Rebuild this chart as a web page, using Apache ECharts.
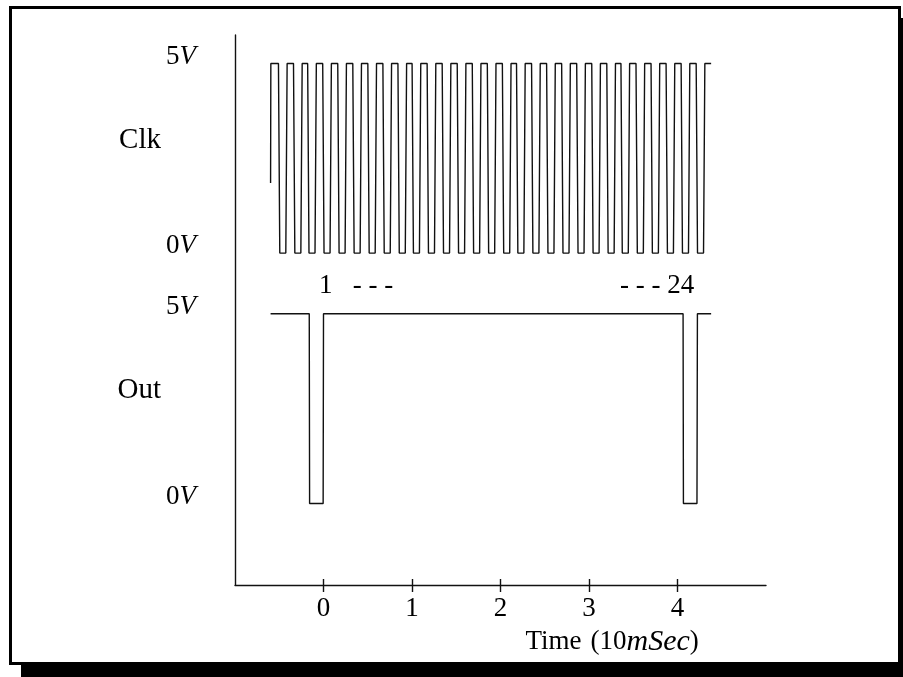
<!DOCTYPE html>
<html>
<head>
<meta charset="utf-8">
<title>Clk / Out</title>
<script src="https://cdn.jsdelivr.net/npm/echarts@6/dist/echarts.min.js"></script>
<style>
  html, body { margin: 0; padding: 0; background: #fff; }
  #chart { width: 903px; height: 677px; }
</style>
</head>
<body>
<div id="chart"></div>
<script>
// Time axis ticks (units of 10 mSec)
const xTicks = [0, 1, 2, 3, 4];

// Clock: centre of every low (0 V) plateau, in time units
const clkLowCentres = [
  -0.46, -0.29, -0.13, 0.04, 0.21, 0.38, 0.55, 0.72, 0.89, 1.05,
  1.22, 1.39, 1.56, 1.73, 1.90, 2.07, 2.23, 2.40, 2.57, 2.74,
  2.91, 3.08, 3.25, 3.41, 3.58, 3.75, 3.92, 4.09, 4.26
];
const clkStart = [[-0.598, 1.85], [-0.595, 5]];
const clkEnd = 4.38;

// Output trace: [time, volts]
const outTrace = [
  [-0.598, 5], [-0.161, 5], [-0.157, 0], [-0.004, 0], [0.0, 5],
  [4.063, 5], [4.067, 0], [4.220, 0], [4.225, 5], [4.38, 5]
];

// Level labels and signal names
const levelVolts = [0, 5];
const signalNames = ['Clk', 'Out'];
const pulseLabels = [
  { t: -0.05, text: '1   - - -', align: 'left' },
  { t: 4.19, text: '- - - 24', align: 'right' }
];

// Vertical placement of the two traces on the shared value axis
const clkBase = 8.75;
const outBase = 2.15;
const nameAt = { Clk: 11.73, Out: 5.14 };
const pulseLabelY = 7.88;

const FONT = 'Liberation Serif';
const FS = 27;
const INK = '#111';

// clock vertices from the plateau centres (steep edges, flat plateaus)
const halfLow = 0.034, edge = 0.015;
const clkPts = clkStart.slice();
clkLowCentres.forEach(c => {
  clkPts.push([c - halfLow - edge, 5], [c - halfLow, 0], [c + halfLow, 0], [c + halfLow + edge, 5]);
});
clkPts.push([clkEnd, 5]);

const levelValues = [];
[clkBase, outBase].forEach(b => levelVolts.forEach(v => levelValues.push(b + v)));
function levelText(val) {
  for (const b of [clkBase, outBase]) {
    for (const v of levelVolts) {
      if (Math.abs(b + v - val) < 1e-6) return '{n|' + v + '}{v|V}';
    }
  }
  return '';
}

const chart = echarts.init(document.getElementById('chart'), null, { renderer: 'canvas' });
chart.setOption({
  animation: false,
  backgroundColor: '#fff',
  textStyle: { fontFamily: FONT, color: '#000' },
  graphic: [
    { type: 'rect', z: -100, shape: { x: 21, y: 18, width: 900, height: 670 }, style: { fill: '#000' } },
    { type: 'rect', z: -99, shape: { x: 10.5, y: 7.5, width: 889, height: 656 }, style: { fill: '#fff', stroke: '#000', lineWidth: 3 } }
  ],
  grid: { left: 235, right: 137, top: 35, bottom: 92, containLabel: false },
  xAxis: [
    {
      type: 'value', min: -1, max: 5,
      axisLine: { show: true, onZero: false, lineStyle: { color: INK, width: 1.4 } },
      axisTick: { show: true, customValues: xTicks, length: 7, inside: false, lineStyle: { color: INK, width: 1.4 } },
      axisLabel: { customValues: xTicks, margin: 10, fontFamily: FONT, fontSize: FS, color: '#000' },
      splitLine: { show: false },
      name: '{r|Time}   {r|(10}{i|mSec}{r|)}',
      nameLocation: 'middle',
      nameGap: 42,
      nameTextStyle: {
        align: 'left',
        padding: [0, 0, 0, 25],
        rich: {
          r: { fontFamily: FONT, fontSize: FS, color: '#000' },
          i: { fontFamily: FONT, fontSize: FS + 3, fontStyle: 'italic', color: '#000' }
        }
      }
    },
    {
      type: 'value', min: -1, max: 5, position: 'bottom',
      axisLine: { show: false, onZero: false },
      axisTick: { show: true, customValues: xTicks, length: 6, inside: true, lineStyle: { color: INK, width: 1.4 } },
      axisLabel: { show: false },
      splitLine: { show: false }
    }
  ],
  yAxis: [
    {
      type: 'value', min: 0, max: 14.5,
      axisLine: { show: true, onZero: false, lineStyle: { color: INK, width: 1.4 } },
      axisTick: { show: false },
      splitLine: { show: false },
      axisLabel: {
        customValues: levelValues,
        margin: 39,
        padding: [0, 0, 14, 0],
        formatter: levelText,
        rich: {
          n: { fontFamily: FONT, fontSize: FS, color: '#000' },
          v: { fontFamily: FONT, fontSize: FS, fontStyle: 'italic', color: '#000' }
        }
      }
    },
    {
      type: 'value', min: 0, max: 14.5, position: 'left',
      axisLine: { show: false },
      axisTick: { show: false },
      splitLine: { show: false },
      axisLabel: {
        customValues: signalNames.map(n => nameAt[n]),
        margin: 74,
        fontFamily: FONT, fontSize: FS + 2, color: '#000',
        formatter: val => signalNames.find(n => Math.abs(nameAt[n] - val) < 1e-6) || ''
      }
    }
  ],
  series: [
    {
      name: 'Clk', type: 'line', xAxisIndex: 0, yAxisIndex: 0,
      showSymbol: false, symbol: 'none',
      lineStyle: { color: INK, width: 1.4 },
      data: clkPts.map(([t, v]) => [t, v + clkBase])
    },
    {
      name: 'Out', type: 'line', xAxisIndex: 0, yAxisIndex: 0,
      showSymbol: false, symbol: 'none',
      lineStyle: { color: INK, width: 1.4 },
      data: outTrace.map(([t, v]) => [t, v + outBase])
    },
    {
      name: 'count', type: 'scatter', xAxisIndex: 0, yAxisIndex: 0,
      symbolSize: 0, itemStyle: { color: 'rgba(0,0,0,0)', opacity: 1 },
      label: {
        show: true, position: 'inside', verticalAlign: 'middle',
        fontFamily: FONT, fontSize: FS, color: '#000',
        formatter: p => p.data.text
      },
      data: pulseLabels.map(p => ({ value: [p.t, pulseLabelY], text: p.text, label: { align: p.align } }))
    }
  ]
});
</script>
</body>
</html>
